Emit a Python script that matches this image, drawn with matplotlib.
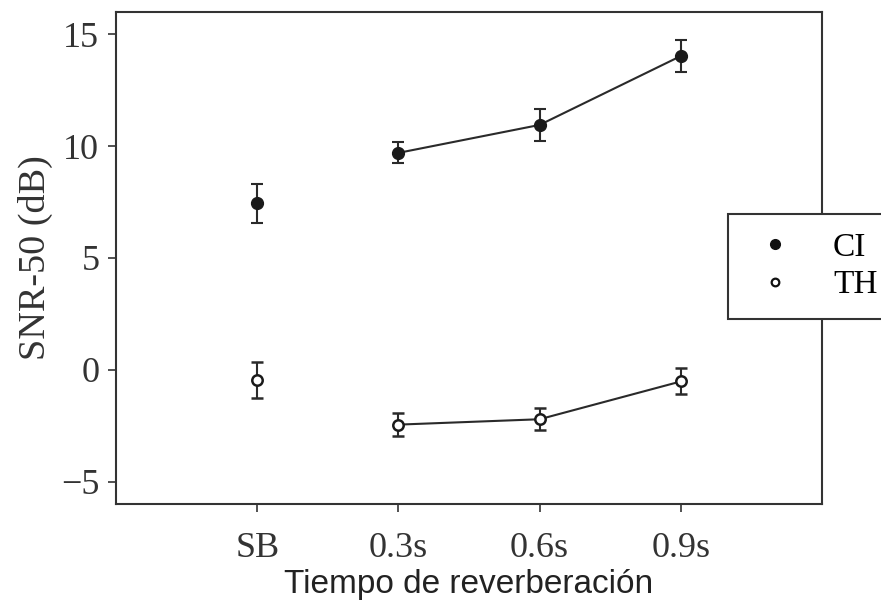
import matplotlib
matplotlib.use("Agg")
import matplotlib.pyplot as plt
from matplotlib.lines import Line2D

conditions = ["SB", "0.3s", "0.6s", "0.9s"]
ci_mean = [7.45, 9.70, 10.95, 14.03]
ci_err = [0.87, 0.47, 0.72, 0.72]
th_mean = [-0.45, -2.45, -2.21, -0.52]
th_err = [0.82, 0.50, 0.49, 0.58]

SERIF = "Liberation Serif"
SANS = "Liberation Sans"

fig = plt.figure(figsize=(8.81, 6.11), dpi=100)
ax = fig.add_axes([0.1317, 0.1751, 0.8013, 0.8053])

x = list(range(1, len(conditions) + 1))

# reverberation conditions joined by a line, SB stands alone
ax.plot(x[1:], ci_mean[1:], color="#2a2a2a", lw=1.5, zorder=2)
ax.plot(x[1:], th_mean[1:], color="#2a2a2a", lw=1.5, zorder=2)

ax.errorbar(x, ci_mean, yerr=ci_err, fmt="o", color="#1a1a1a", ms=8.5,
            mfc="#1a1a1a", mec="#1a1a1a", ecolor="#2a2a2a", elinewidth=1.5,
            capsize=4.5, capthick=1.5, zorder=3)
ax.errorbar(x, th_mean, yerr=th_err, fmt="o", color="#1a1a1a", ms=7.5,
            mfc="white", mec="#1a1a1a", mew=1.8, ecolor="#2a2a2a",
            elinewidth=1.5, capsize=4.5, capthick=1.5, zorder=3)

ax.set_xlim(0, 5)
ax.set_ylim(-6, 16)
ax.set_xticks(x)
ax.set_xticklabels(conditions, fontfamily=SERIF, fontsize=26, color="#333333")
ax.set_yticks([-5, 0, 5, 10, 15])
ax.set_yticklabels(["\u22125", "0", "5", "10", "15"], fontfamily=SERIF,
                   fontsize=26, color="#333333")
ax.tick_params(direction="out", length=6, width=1.2, color="#333333")
ax.tick_params(axis="x", pad=14)
ax.tick_params(axis="y", pad=6)

for s in ax.spines.values():
    s.set_linewidth(1.5)
    s.set_color("#333333")

ax.set_ylabel("SNR-50 (dB)", fontfamily=SERIF, fontsize=27.5, color="#333333",
              labelpad=6)
ax.set_xlabel("Tiempo de reverberación", fontfamily=SANS, fontsize=24,
              color="#222222", labelpad=3)

handles = [
    Line2D([], [], ls="none", marker="o", ms=7, mfc="#111111", mec="#111111"),
    Line2D([], [], ls="none", marker="o", ms=5.5, mfc="white", mec="#111111",
           mew=1.6),
]
leg = ax.legend(handles, ["CI", "TH"], loc="upper left",
                bbox_to_anchor=(0.867, 0.589), fancybox=False, framealpha=1,
                edgecolor="#333333", prop={"family": SERIF, "size": 24},
                handletextpad=0.9, borderpad=0.55, labelspacing=0.2,
                handlelength=1.7, borderaxespad=0)
leg.get_frame().set_linewidth(1.5)
leg.set_zorder(10)
leg.set_clip_on(False)

fig.savefig("out.png", dpi=100)
